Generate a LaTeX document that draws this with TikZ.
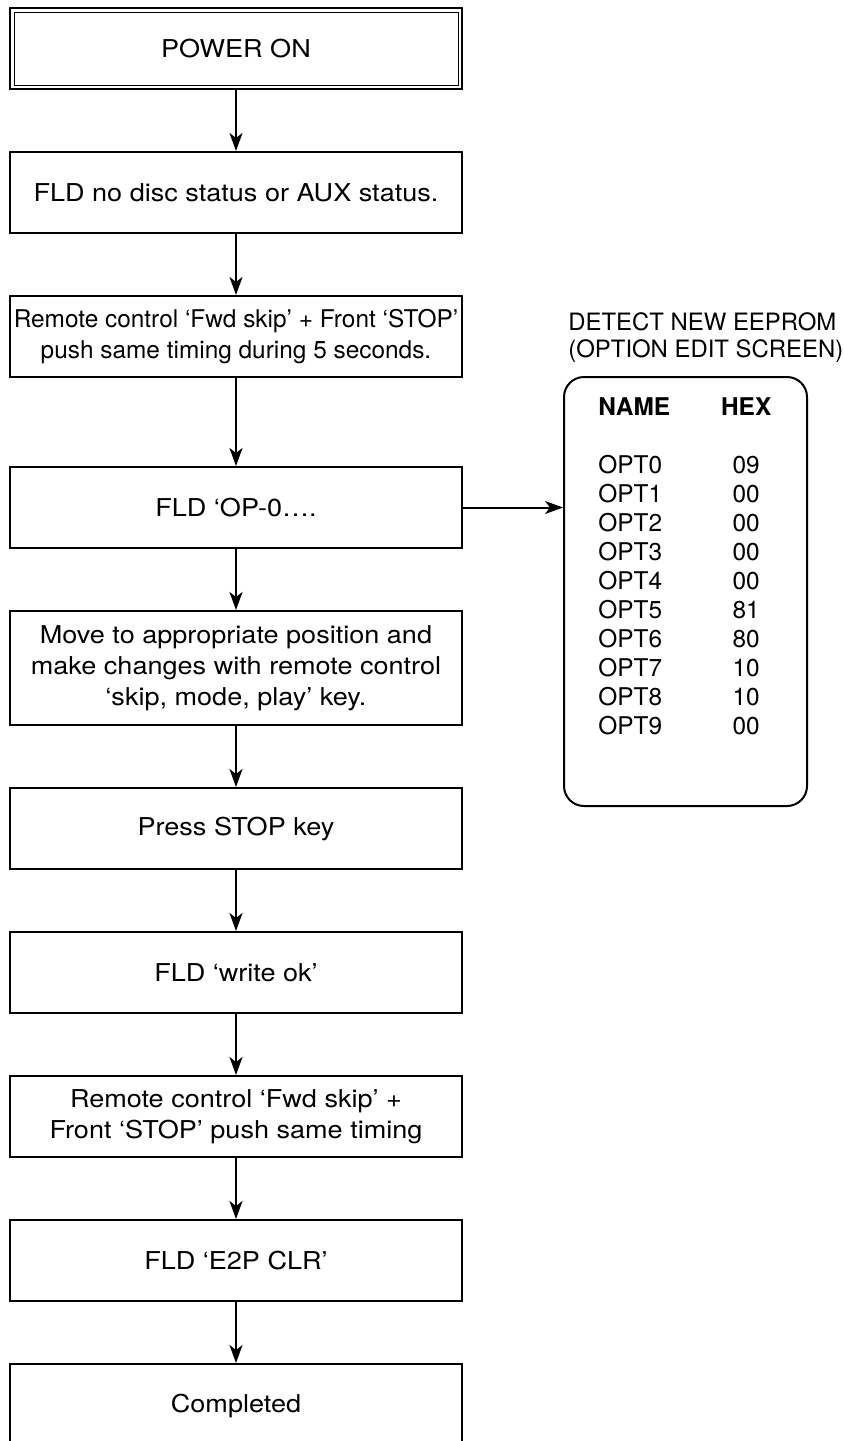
\documentclass[tikz,border=0pt]{standalone}
\usepackage{fontspec}
\setmainfont{TeX Gyre Heros}
\newfontfamily\widefont{TeX Gyre Heros}[FakeStretch=1.1]
\usepackage{tikz}
\usetikzlibrary{positioning,arrows.meta}

\begin{document}
\begin{tikzpicture}[
			node distance=30.5pt,
			stepbox/.style={
				draw,
				line width=1pt,
				align=center,
				minimum width=226pt,
				minimum height=40.5pt,
				inner xsep=0pt,
				font=\widefont\fontsize{12.3}{15.5}\selectfont
			},
			tightbox/.style={stepbox,font=\fontsize{12.2}{15.5}\selectfont},
			screen/.style={draw,line width=1pt,rounded corners=10pt,minimum width=121.5pt,minimum height=214.5pt},
			caption/.style={align=left,inner sep=0pt,font=\fontsize{11.95}{13.5}\selectfont},
			optlist/.style={inner sep=0pt,font=\fontsize{12.2}{14.5}\selectfont},
			arrow/.style={-{Stealth[length=9pt,width=6.5pt,inset=2.5pt]},line width=1pt}
			]
			
			\useasboundingbox (0,0) rectangle (421.5pt,-720.5pt);
			\clip (0,0) rectangle (421.5pt,-720.5pt);
			
			\node[stepbox] (pwr) at (118pt,-24.25pt) {POWER ON};
			\node[stepbox,below=of pwr] (nodisc) {FLD no disc status or AUX status.};
			\node[tightbox,below=of nodisc] (keys) {Remote control ‘Fwd skip’ + Front ‘STOP’\\push same timing during 5 seconds.};
			\node[stepbox,below=44pt of keys] (opt) {FLD ‘OP-0….};
			\node[stepbox,below=of opt,minimum height=57pt] (move) {Move to appropriate position and\\make changes with remote control\\‘skip, mode, play’ key.};
			\node[stepbox,below=of move] (stop) {Press STOP key};
			\node[stepbox,below=of stop] (write) {FLD ‘write ok’};
			\node[stepbox,below=of write] (clrkeys) {Remote control ‘Fwd skip’ +\\Front ‘STOP’ push same timing};
			\node[stepbox,below=of clrkeys] (clr) {FLD ‘E2P CLR’};
			\node[stepbox,below=of clr,minimum height=42pt] (done) {Completed};
			
			% inner frame of the start box
			\draw[line width=0.5pt] ([shift={(2.5pt,-2.5pt)}]pwr.north west) rectangle ([shift={(-2.5pt,2.5pt)}]pwr.south east);
			
			\node[screen,anchor=north west] (scr) at ([xshift=50pt,yshift=45pt]opt.north east) {};
			\node[caption,anchor=south west] (scrtitle) at ([xshift=2.5pt,yshift=6.5pt]scr.north west) {DETECT NEW EEPROM\\(OPTION EDIT SCREEN)};
			\node[optlist,anchor=north west] (opts) at ([xshift=17.5pt,yshift=-9.5pt]scr.north west) {%
				\begin{tabular}{@{}l@{\hspace{25.5pt}}c@{}}
					\textbf{NAME} & \textbf{HEX}\\
					& \\
					OPT0 & 09\\
					OPT1 & 00\\
					OPT2 & 00\\
					OPT3 & 00\\
					OPT4 & 00\\
					OPT5 & 81\\
					OPT6 & 80\\
					OPT7 & 10\\
					OPT8 & 10\\
					OPT9 & 00
				\end{tabular}};
			
			\draw[arrow] (pwr) -- (nodisc);
			\draw[arrow] (nodisc) -- (keys);
			\draw[arrow] (keys) -- (opt);
			\draw[arrow] (opt) -- (move);
			\draw[arrow] (move) -- (stop);
			\draw[arrow] (stop) -- (write);
			\draw[arrow] (write) -- (clrkeys);
			\draw[arrow] (clrkeys) -- (clr);
			\draw[arrow] (clr) -- (done);
			
			\draw[arrow] (opt.east) -- (opt.east -| scr.west);
			
		\end{tikzpicture}
\end{document}
